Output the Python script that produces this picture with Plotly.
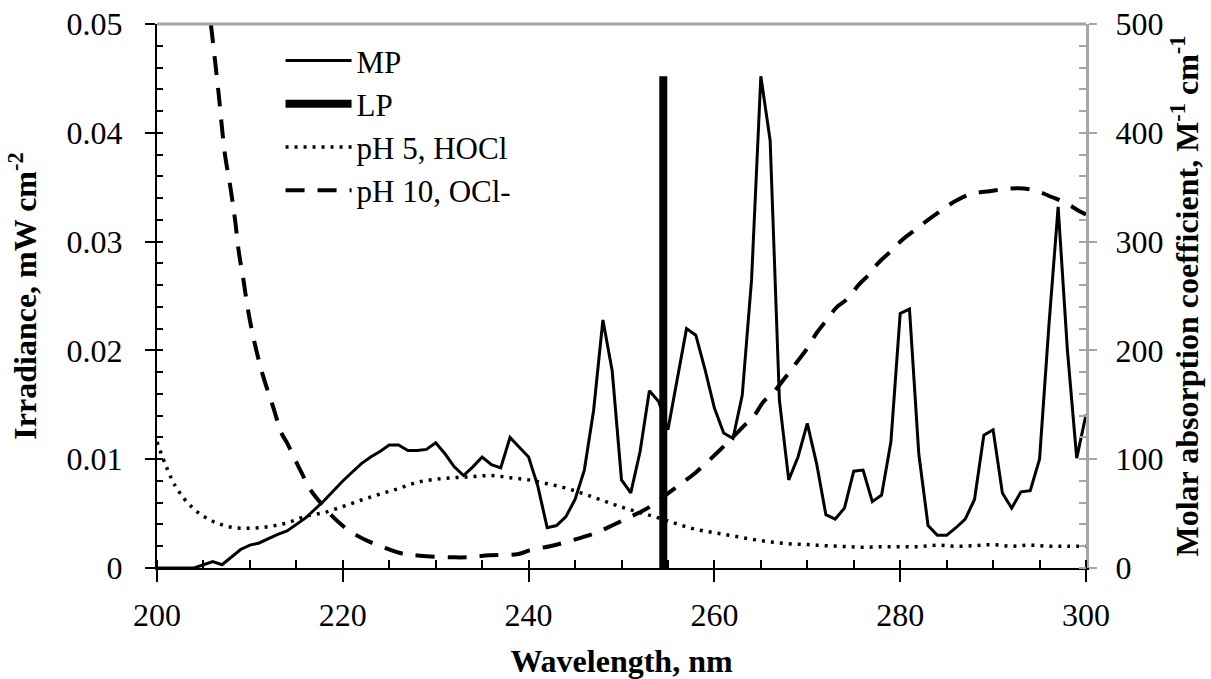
import plotly.graph_objects as go

# ---------------- data ----------------
mp_wl = list(range(200, 301))
mp_irr = [0, 0, 0, 0, 0, 0.0003, 0.0006, 0.0003, 0.0010, 0.0017,
          0.0021, 0.0023, 0.0027, 0.0031, 0.0034, 0.0040, 0.0046, 0.0054, 0.0062, 0.0071,
          0.0080, 0.0088, 0.0096, 0.0102, 0.0107, 0.0113, 0.0113, 0.0108, 0.0108, 0.0109,
          0.0115, 0.0105, 0.0093, 0.0085, 0.0093, 0.0102, 0.0095, 0.0092, 0.0120, 0.0111,
          0.0102, 0.0075, 0.0037, 0.0039, 0.0047, 0.0063, 0.0090, 0.0145, 0.0228, 0.0181,
          0.0081, 0.0069, 0.0107, 0.0163, 0.0153, 0.0127, 0.0173, 0.0220, 0.0214, 0.0182,
          0.0147, 0.0124, 0.0119, 0.0159, 0.0265, 0.0452, 0.0393, 0.0154, 0.0081, 0.0102,
          0.0133, 0.0096, 0.0049, 0.0045, 0.0055, 0.0089, 0.0090, 0.0061, 0.0067, 0.0116,
          0.0234, 0.0238, 0.0105, 0.0039, 0.0030, 0.0030, 0.0037, 0.0045, 0.0063, 0.0122,
          0.0127, 0.0069, 0.0055, 0.0070, 0.0071, 0.0100, 0.0222, 0.0332, 0.0200, 0.0101,
          0.0141]

lp_wl = [254.5, 254.5]
lp_irr = [0, 0.0452]

hocl_wl = list(range(200, 301, 2))
hocl_eps = [116, 75, 54, 43, 37.5, 36.5, 38, 41.5, 47.5, 51,
            56.5, 62.5, 68, 73, 78.8, 81.5, 83, 84, 85, 83,
            81, 77.5, 73.5, 68, 62, 56, 51, 46, 40.5, 35.5,
            32.5, 29.5, 26.5, 24, 22.3, 21.5, 20.5, 19.8, 19, 19.5,
            19.6, 19.6, 21, 20, 20.5, 21.5, 20, 21, 20, 20, 20]

ocl_wl = [205.8, 206.6, 207.3, 207.9, 208.4, 208.8, 209.3, 209.8, 210.5, 211.4,
          212.5, 213.4, 214.0, 214.9, 215.6, 216.5, 217.5, 218.6, 219.9, 221.5,
          222.9, 224.7, 226.3, 228.3, 231.9, 233.3, 235.8, 238.9, 240.2, 242.3,
          243.7, 245.7, 247.3, 249.1, 250.6, 252.4, 253.6, 255.0, 256.5, 257.9,
          260.6, 261.7, 263.1, 264.2, 265.3, 266.4, 267.8, 268.5, 270.0, 271.0,
          272.1, 273.2, 274.4, 275.5, 276.8, 277.6, 279.1, 280.2, 281.6, 283.0,
          284.5, 285.9, 287.7, 289.3, 291.1, 292.7, 294.5, 296.3, 297.7, 299.3, 300]
ocl_eps = [500, 439, 381, 350, 320, 291, 265, 237, 207, 177,
           148, 124, 115, 99, 87, 72, 61, 50, 39.5, 30,
           24, 18, 13.5, 11.3, 9.8, 9.8, 11.7, 12.9, 16.5, 20,
           23, 28, 32.5, 39.5, 45.7, 53, 59.5, 68.6, 78, 87,
           108.5, 117.6, 130, 139, 153, 162, 177, 185, 202, 216,
           228, 240, 248, 260, 271, 280, 292, 301.5, 310.7, 320,
           329, 337, 344, 346, 348, 349, 347, 341, 336, 328, 325]

# ---------------- figure ----------------
FONT = "Times New Roman, Liberation Serif, serif"
FS = 32

fig = go.Figure()
fig.add_trace(go.Scatter(x=mp_wl, y=mp_irr, name="MP", mode="lines",
                         line=dict(color="black", width=3)))
fig.add_trace(go.Scatter(x=lp_wl, y=lp_irr, name="LP", mode="lines",
                         line=dict(color="black", width=8)))
fig.add_trace(go.Scatter(x=hocl_wl, y=hocl_eps, name="pH 5, HOCl", mode="lines", yaxis="y2",
                         line=dict(color="black", width=3.5, dash="3px,6px", shape="spline")))
fig.add_trace(go.Scatter(x=ocl_wl, y=ocl_eps, name="pH 10, OCl-", mode="lines", yaxis="y2",
                         line=dict(color="black", width=4, dash="19px,13px", shape="spline")))

fig.update_layout(
    width=1211, height=679,
    margin=dict(l=157, r=125, t=24, b=111),
    paper_bgcolor="white", plot_bgcolor="white",
    font=dict(family=FONT, size=FS, color="black"),
    showlegend=True,
    legend=dict(x=0.133, y=0.982, xanchor="left", yanchor="top",
                bgcolor="rgba(0,0,0,0)", font=dict(family=FONT, size=31),
                traceorder="normal", itemwidth=66),
    xaxis=dict(range=[200, 300], dtick=20, showgrid=False, zeroline=False,
               showline=True, linecolor="black", linewidth=2, automargin=False,
               ticks="outside", ticklen=12, tickwidth=2, tickcolor="black",
               minor=dict(ticks="inside", dtick=5, ticklen=8, tickwidth=2, tickcolor="black"),
               ticklabelstandoff=6, tickfont=dict(family=FONT, size=FS),
               title=dict(text="<b>Wavelength, nm</b>", standoff=19,
                          font=dict(family=FONT, size=FS))),
    yaxis=dict(range=[0, 0.05], dtick=0.01, showgrid=False, zeroline=False,
               showline=True, linecolor="black", linewidth=2, automargin=False,
               ticks="outside", ticklen=10, tickwidth=2, tickcolor="black",
               minor=dict(ticks="inside", dtick=0.002, ticklen=6, tickwidth=2, tickcolor="black"),
               ticklabelstandoff=16, tickfont=dict(family=FONT, size=FS),
               title=dict(text="<b>Irradiance, mW cm<sup>-2</sup></b>", standoff=20,
                          font=dict(family=FONT, size=FS))),
    yaxis2=dict(range=[0, 500], dtick=100, overlaying="y", side="right",
                showgrid=False, zeroline=False, automargin=False,
                showline=True, linecolor="#a6a6a6", linewidth=3,
                ticks="outside", ticklen=8, tickwidth=2, tickcolor="#a6a6a6",
                minor=dict(ticks="inside", dtick=20, ticklen=7, tickwidth=2, tickcolor="#a6a6a6"),
                ticklabelstandoff=12, tickfont=dict(family=FONT, size=FS),
                title=dict(text="<b>Molar absorption coefficient, M<sup>-1</sup> cm<sup>-1</sup></b>",
                           standoff=14, font=dict(family=FONT, size=FS))),
    shapes=[dict(type="line", xref="paper", yref="paper", x0=0, x1=1, y0=1, y1=1,
                 line=dict(color="#a6a6a6", width=3))],
)

fig.write_html("out.html")
